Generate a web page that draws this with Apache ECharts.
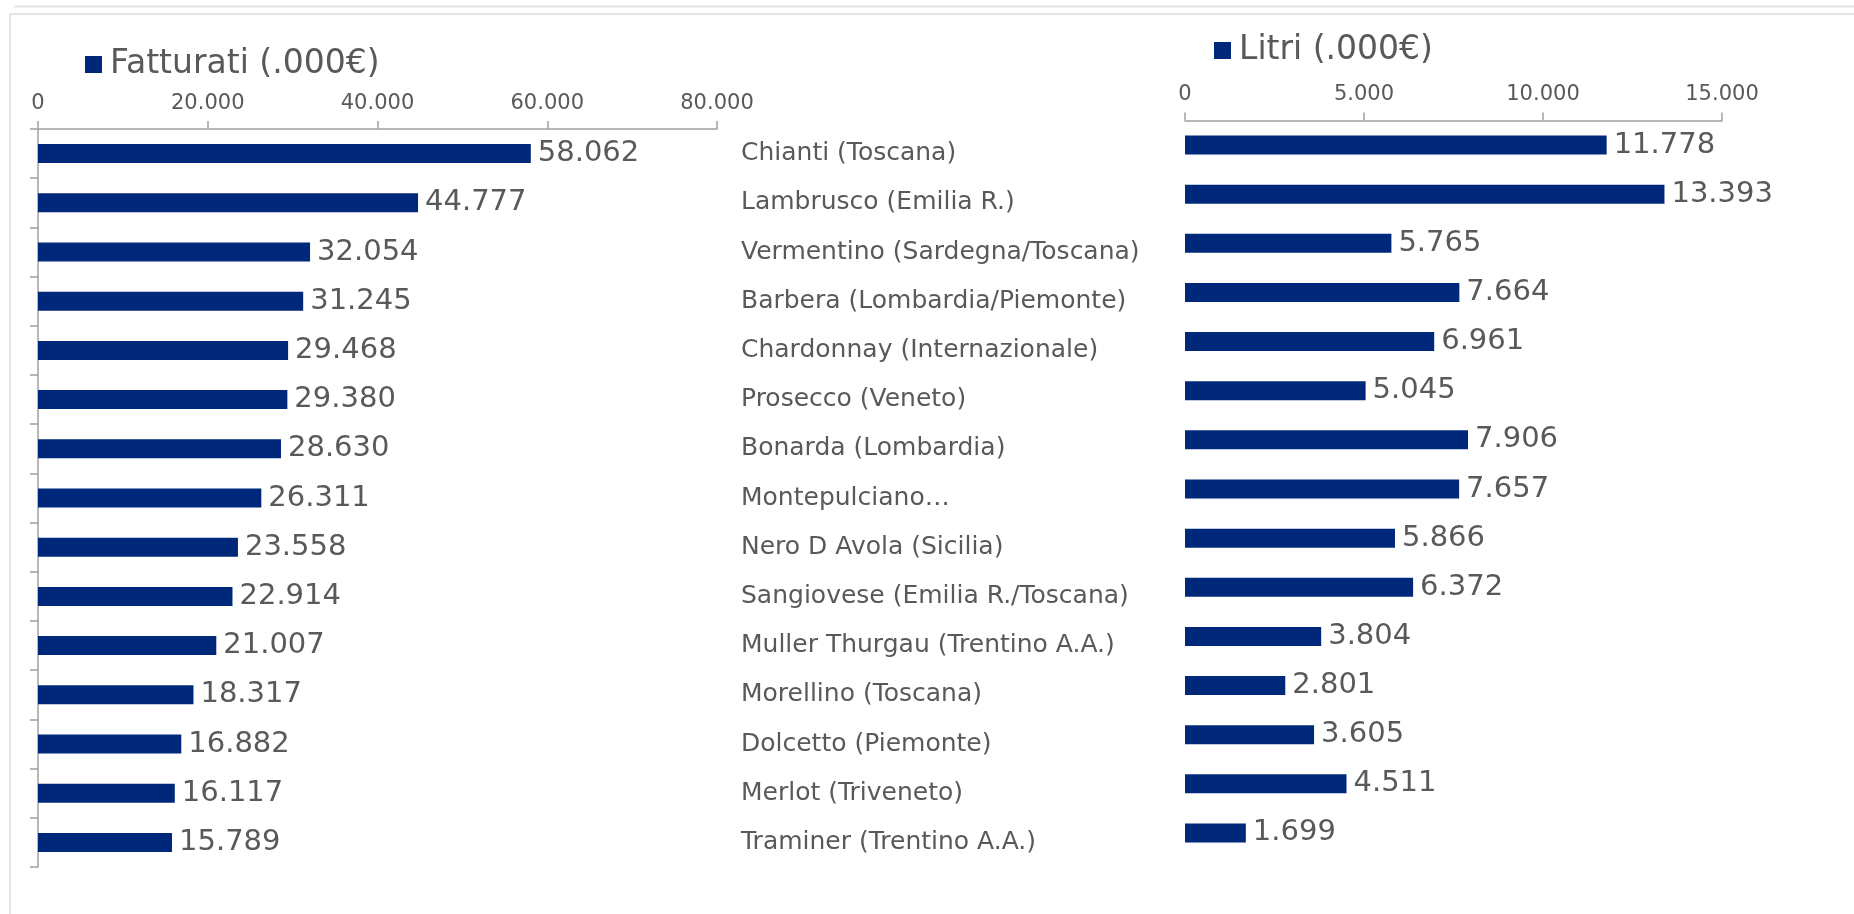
<!DOCTYPE html>
<html>
<head>
<meta charset="utf-8">
<script src="https://cdn.jsdelivr.net/npm/echarts@6/dist/echarts.min.js"></script>
<style>
html,body{margin:0;padding:0;background:#fff;}
#chart{width:1854px;height:914px;}
</style>
</head>
<body>
<div id="chart"></div>
<script>
const categories = [
  'Chianti (Toscana)',
  'Lambrusco (Emilia R.)',
  'Vermentino (Sardegna/Toscana)',
  'Barbera (Lombardia/Piemonte)',
  'Chardonnay (Internazionale)',
  'Prosecco (Veneto)',
  'Bonarda (Lombardia)',
  'Montepulciano…',
  'Nero D Avola (Sicilia)',
  'Sangiovese (Emilia R./Toscana)',
  'Muller Thurgau (Trentino A.A.)',
  'Morellino (Toscana)',
  'Dolcetto (Piemonte)',
  'Merlot (Triveneto)',
  'Traminer (Trentino A.A.)'
];
const fatturati = [58062, 44777, 32054, 31245, 29468, 29380, 28630, 26311, 23558, 22914, 21007, 18317, 16882, 16117, 15789];
const litri = [11778, 13393, 5765, 7664, 6961, 5045, 7906, 7657, 5866, 6372, 3804, 2801, 3605, 4511, 1699];
const fatturatiName = 'Fatturati (.000€)';
const litriName = 'Litri (.000€)';

const FONT = "'DejaVu Sans', Verdana, sans-serif";
const GREY = '#595959';
const AXIS = '#a0a0a0';
const BAR = '#00287A';
const fmt = v => String(v).replace(/\B(?=(\d{3})+(?!\d))/g, '.');

const chart = echarts.init(document.getElementById('chart'), null, {renderer: 'canvas'});
chart.setOption({
  animation: false,
  backgroundColor: '#fff',
  textStyle: {fontFamily: FONT},
  graphic: [
    {type: 'line', shape: {x1: 14, y1: 6.5, x2: 1854, y2: 6.5}, style: {stroke: '#e4e4e2', lineWidth: 2}, silent: true},
    {type: 'line', shape: {x1: 10, y1: 14, x2: 1854, y2: 14}, style: {stroke: '#e4e4e2', lineWidth: 2}, silent: true},
    {type: 'line', shape: {x1: 10, y1: 14, x2: 10, y2: 914}, style: {stroke: '#e4e4e2', lineWidth: 2}, silent: true}
  ],
  legend: [
    {data: [fatturatiName], left: 85, top: 48, padding: 0, itemWidth: 17, itemHeight: 17, icon: 'rect',
     textStyle: {fontSize: 33, color: GREY, fontFamily: FONT, padding: [0, 0, 0, 3]}},
    {data: [litriName], left: 1214, top: 34, padding: 0, itemWidth: 17, itemHeight: 17, icon: 'rect',
     textStyle: {fontSize: 33, color: GREY, fontFamily: FONT, padding: [0, 0, 0, 3]}}
  ],
  grid: [
    {left: 38, top: 129, width: 679, height: 738},
    {left: 1185, top: 120.5, width: 537, height: 737}
  ],
  xAxis: [
    {type: 'value', gridIndex: 0, position: 'top', min: 0, max: 80000, interval: 20000,
     axisLine: {show: true, lineStyle: {color: AXIS, width: 1.5}},
     axisTick: {show: true, length: 8, lineStyle: {color: AXIS, width: 1.5}},
     splitLine: {show: false},
     axisLabel: {fontSize: 21, color: GREY, fontFamily: FONT, margin: 15, formatter: fmt}},
    {type: 'value', gridIndex: 1, position: 'top', min: 0, max: 15000, interval: 5000,
     axisLine: {show: true, lineStyle: {color: AXIS, width: 1.5}},
     axisTick: {show: true, length: 8, lineStyle: {color: AXIS, width: 1.5}},
     splitLine: {show: false},
     axisLabel: {fontSize: 21, color: GREY, fontFamily: FONT, margin: 15, formatter: fmt}}
  ],
  yAxis: [
    {type: 'category', gridIndex: 0, data: categories, inverse: true, position: 'left',
     axisLine: {show: true, lineStyle: {color: AXIS, width: 1.5}},
     axisTick: {show: true, length: 8, lineStyle: {color: AXIS, width: 1.5}},
     axisLabel: {show: false}},
    {type: 'category', gridIndex: 0, data: categories, inverse: true, position: 'right',
     axisLine: {show: false}, axisTick: {show: false},
     axisLabel: {show: true, fontSize: 25, color: GREY, fontFamily: FONT, margin: 24, padding: [4, 0, 0, 0]}},
    {type: 'category', gridIndex: 1, data: categories, inverse: true, position: 'left',
     axisLine: {show: false}, axisTick: {show: false}, axisLabel: {show: false}}
  ],
  series: [
    {name: fatturatiName, type: 'bar', xAxisIndex: 0, yAxisIndex: 0, data: fatturati, barWidth: 19,
     itemStyle: {color: BAR},
     label: {show: true, position: 'right', distance: 7, fontSize: 29, color: GREY, fontFamily: FONT, padding: [5, 0, 0, 0], formatter: p => fmt(p.value)}},
    {name: litriName, type: 'bar', xAxisIndex: 1, yAxisIndex: 2, data: litri, barWidth: 19,
     itemStyle: {color: BAR},
     label: {show: true, position: 'right', distance: 7, fontSize: 29, color: GREY, fontFamily: FONT, padding: [5, 0, 0, 0], formatter: p => fmt(p.value)}}
  ]
});
</script>
</body>
</html>
